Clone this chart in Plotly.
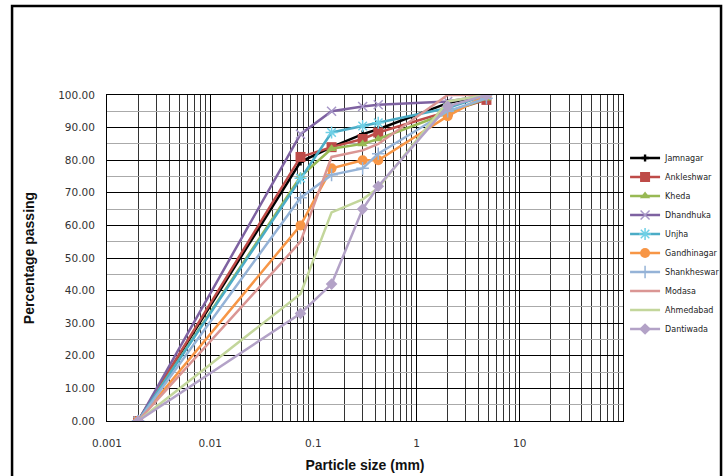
import plotly.graph_objects as go

# Particle sizes (mm)
sizes = [0.002, 0.075, 0.15, 0.3, 0.425, 2.0, 4.75]

jamnagar = [0, 79.5, 84.0, 88.0, 89.5, 97.5, 100]
ankleshwar = [0, 81.0, 84.0, 86.5, 88.5, 95.0, 98.5]
kheda = [0, 75.0, 83.5, 85.0, 86.5, 94.5, 99.0]
dhandhuka = [0, 88.0, 95.0, 96.5, 97.0, 98.0, 100]
unjha = [0, 74.5, 88.5, 90.5, 91.5, 96.0, 100]
gandhinagar = [0, 60.0, 77.5, 80.0, 80.0, 93.5, 100]
shankheswar = [0, 68.5, 75.5, 77.5, 82.0, 95.0, 99.0]
modasa = [0, 55.0, 81.0, 83.0, 85.0, 100, 100]
ahmedabad = [0, 39.0, 64.0, 68.0, 71.5, 98.0, 100]
dantiwada = [0, 33.0, 42.0, 65.0, 72.0, 96.5, 100]

x_tickvals = [0.001, 0.01, 0.1, 1, 10]
x_ticktext = ["0.001", "0.01", "0.1", "1", "10"]
y_tickvals = [0, 10, 20, 30, 40, 50, 60, 70, 80, 90, 100]

series = [
    ("Jamnagar", jamnagar, "#000000", "cross", 6, None),
    ("Ankleshwar", ankleshwar, "#BE4B48", "square", 10, None),
    ("Kheda", kheda, "#98B954", "triangle-up", 9, None),
    ("Dhandhuka", dhandhuka, "#7E62A1", "x-thin", 9, "#A898C8"),
    ("Unjha", unjha, "#4BACC6", "asterisk", 10, "#6FD0E6"),
    ("Gandhinagar", gandhinagar, "#F79646", "circle", 10, None),
    ("Shankheswar", shankheswar, "#95B3D7", "cross-thin", 9, "#95B3D7"),
    ("Modasa", modasa, "#DA9694", None, 0, None),
    ("Ahmedabad", ahmedabad, "#C3D69B", None, 0, None),
    ("Dantiwada", dantiwada, "#B3A2C7", "diamond", 9, None),
]

fig = go.Figure()
for name, vals, color, sym, size, lcol in series:
    if sym is None:
        fig.add_trace(go.Scatter(x=sizes, y=vals, name=name, mode="lines",
                                 line=dict(color=color, width=2.5)))
    else:
        mk = dict(symbol=sym, size=size, color=color)
        if lcol is not None:
            mk["line"] = dict(color=lcol, width=1.5)
        fig.add_trace(go.Scatter(x=sizes, y=vals, name=name, mode="lines+markers",
                                 line=dict(color=color, width=2.5), marker=mk))

fig.update_layout(
    width=723, height=476,
    margin=dict(l=107, r=100, t=95, b=55, autoexpand=False),
    paper_bgcolor="white", plot_bgcolor="white",
    font=dict(family="DejaVu Sans, sans-serif", color="#222"),
    showlegend=True,
    legend=dict(x=1.004, xanchor="left", y=0.5445, yanchor="middle",
                font=dict(size=8, color="#222", family="DejaVu Sans, sans-serif"),
                bgcolor="rgba(0,0,0,0)", tracegroupgap=0, borderwidth=0),
    shapes=[dict(type="rect", xref="paper", yref="paper",
                 x0=-0.184, x1=1.19, y0=-0.2, y1=1.273,
                 line=dict(color="black", width=2.5))],
)

fig.update_xaxes(
    type="log", range=[-3, 2], automargin=False,
    tickvals=x_tickvals, ticktext=x_ticktext,
    tickfont=dict(size=10.5, color="#333", family="DejaVu Sans, sans-serif"),
    ticks="outside", ticklen=12, tickcolor="rgba(0,0,0,0)",
    showgrid=True, gridcolor="#000", gridwidth=1,
    minor=dict(dtick="D1", showgrid=True, gridcolor="#333", gridwidth=1, ticks=""),
    showline=True, mirror=True, linecolor="#000", linewidth=1, zeroline=False,
    title=dict(text="<b>Particle size (mm)</b>",
               font=dict(size=14, color="#111", family="Liberation Sans, Arial, sans-serif"),
               standoff=12),
)
fig.update_yaxes(
    range=[0, 100], tickvals=y_tickvals, tickformat=".2f", automargin=False,
    tickfont=dict(size=10.5, color="#333", family="DejaVu Sans, sans-serif"),
    ticks="outside", ticklen=9, tickcolor="rgba(0,0,0,0)",
    showgrid=True, gridcolor="#000", gridwidth=1,
    minor=dict(dtick=5, showgrid=True, gridcolor="#aaa", gridwidth=1, ticks=""),
    showline=True, mirror=True, linecolor="#000", linewidth=1, zeroline=False,
    title=dict(text="<b>Percentage passing</b>",
               font=dict(size=14, color="#111", family="Liberation Sans, Arial, sans-serif"),
               standoff=20),
)

fig.write_html(
    "out.html",
    config={"displayModeBar": False},
    post_script="document.body.style.margin='0';document.body.style.overflow='hidden';",
)
